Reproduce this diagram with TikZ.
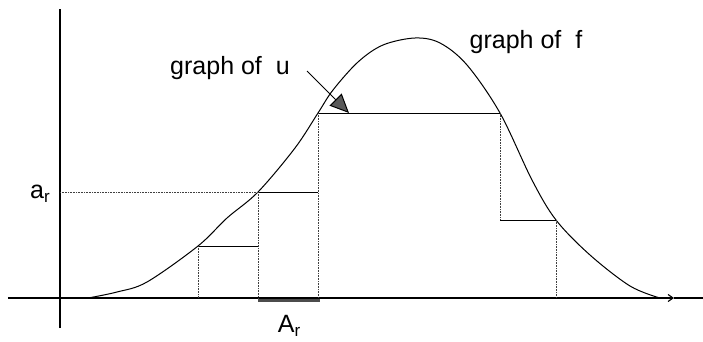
\documentclass[tikz,border=0pt]{standalone}
\usepackage{fontspec}
\setmainfont{Liberation Sans}
\usetikzlibrary{arrows.meta}
\newcommand{\lowsub}[1]{\raisebox{-0.3ex}{\fontsize{17}{17}\selectfont #1}}

\begin{document}
\begin{tikzpicture}[x=1pt, y=1pt,
        axis/.style={line width=1.1pt},
        guide/.style={densely dotted, line width=0.6pt, black!75},
        level/.style={line width=1pt},
        curve/.style={line width=1pt},
        pointer/.style={line width=1pt, -{Triangle[length=19pt,width=17pt,fill=black!65]}},
        label/.style={font=\fontsize{25}{30}\selectfont, inner sep=0pt}]
        \useasboundingbox (-60,-43) rectangle (643,298);

        % osy
        \coordinate (O) at (0,0);
        \draw[axis] (0,-30) -- (0,289);
        \draw[axis, -{Straight Barb[length=5pt,width=7pt]}] (-52,0) -- (614,0);
        \draw[axis] (614,0) -- (643,0);

        % graf funkce f
        \draw[curve] plot[smooth, tension=0.55] coordinates {(28,0) (57,6) (87,16) (138,52)
            (167,80) (198,106) (235,150) (258,185) (273,208) (298,236)
            (323,253) (355,260) (380,255) (407,233) (440,185) (472,118) (496,78)
            (530,43) (570,12) (600,0)};

        % schodovita funkce u
        \coordinate (S1) at (138,52);
        \coordinate (S2) at (198,106);
        \coordinate (S3) at (258,185);
        \coordinate (S4) at (440,185);
        \coordinate (S5) at (496,78);
        \draw[level] (S1) -- (S1 -| S2);
        \draw[level] (S2) -- (S2 -| S3);
        \draw[level] (S3) -- (S4);
        \draw[level] (S4 |- S5) -- (S5);

        % pomocne cary
        \draw[guide] (S1) -- (S1 |- O);
        \draw[guide] (S2) -- (S2 |- O);
        \draw[guide] (S3) -- (S3 |- O);
        \draw[guide] (S4) -- (S4 |- S5);
        \draw[guide] (S5) -- (S5 |- O);
        \draw[guide] (O |- S2) coordinate (ar) -- (S2);

        % mnozina A_r
        \coordinate (Aleft) at (198,-2);
        \coordinate (Aright) at (260,-2);
        \draw[line width=3pt, black!70] (Aleft) -- (Aright);

        % popisky
        \node[label, anchor=east] (arlabel) at (-10,104) {a\lowsub{r}};
        \node[label] (Arlabel) at (229,-28) {A\lowsub{r}};
        \node[label] (flabel) at (466,256) {graph of\ \ f};
        \node[label] (ulabel) at (170,230) {graph of\ \ u};

        % sipka ke grafu u
        \coordinate (ustart) at (247,227);
        \coordinate (utip) at (289,185);
        \draw[pointer] (ustart) -- (utip);
\end{tikzpicture}
\end{document}
